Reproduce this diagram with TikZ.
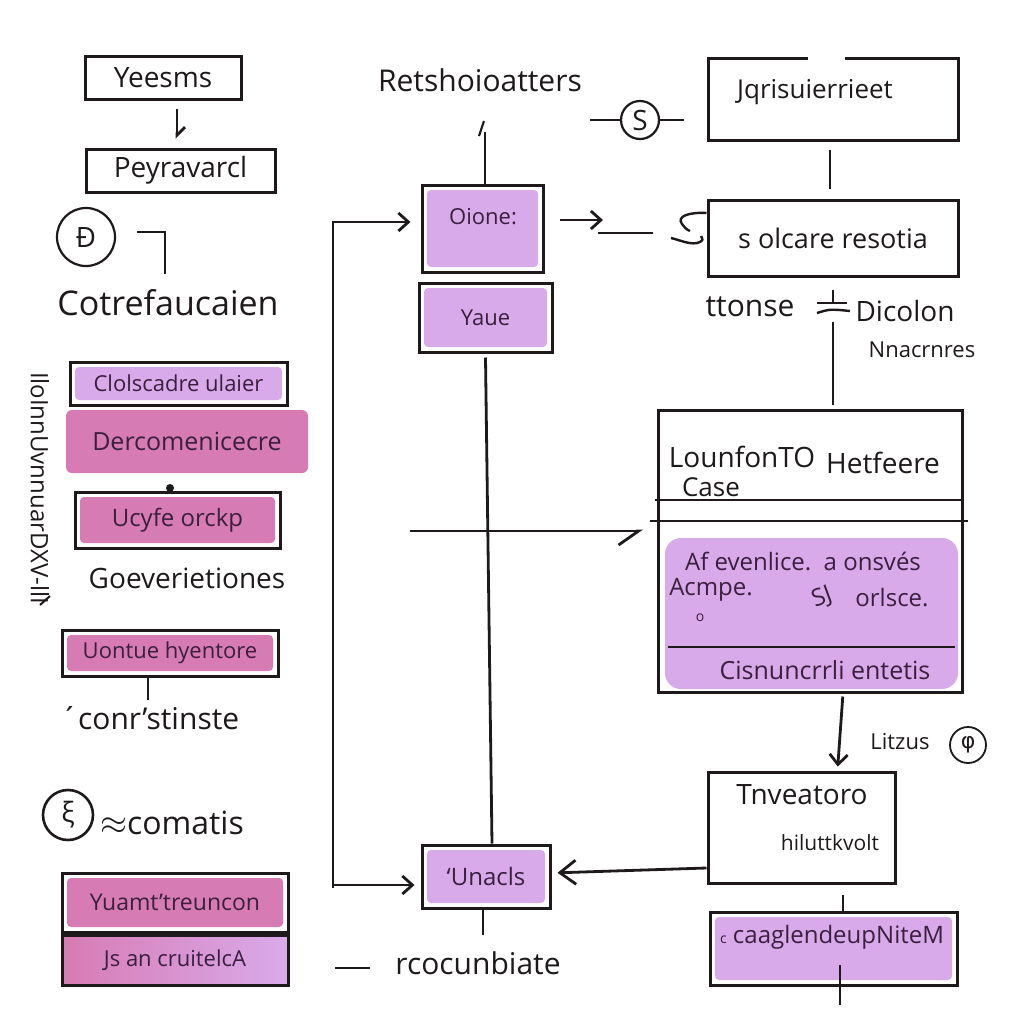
\documentclass[tikz,border=0pt]{standalone}
\usepackage{fontspec}
\setmainfont{Open Sans}
\newfontfamily\djfont{DejaVu Sans}
\usetikzlibrary{arrows.meta,calc,shapes.geometric}
\definecolor{lav}{HTML}{D9AAEA}
\definecolor{pnk}{HTML}{D77BB4}
\definecolor{ink}{HTML}{1E1A1C}
\definecolor{txp}{HTML}{3A1F3F}
\newcommand\fsz[1]{\fontsize{#1}{#1}\selectfont}
\begin{document}
\begin{tikzpicture}[x=0.5pt,y=-0.5pt, line width=1.4pt, draw=ink, text=ink,
  box/.style={draw=ink, line width=1.5pt, inner sep=0pt, text=ink},
  lbox/.style={box, text=txp, path picture={\fill[lav, rounded corners=2pt] ([shift={(2.5pt,-2.5pt)}]path picture bounding box.north west) rectangle ([shift={(-2.5pt,2.5pt)}]path picture bounding box.south east);}},
  pbox/.style={box, text=txp, path picture={\fill[pnk, rounded corners=2pt] ([shift={(2.5pt,-2.5pt)}]path picture bounding box.north west) rectangle ([shift={(-2.5pt,2.5pt)}]path picture bounding box.south east);}},
  arr/.style={-{Straight Barb[length=5pt,width=9pt]}},
  lbl/.style={inner sep=1pt},
  ]
\useasboundingbox[fill=white] (0,0) rectangle (1024,1024);

% ---------- left column ----------
\node[box, minimum width=78pt, minimum height=21.5pt, font=\fsz{14}] (yeesms) at (163,77.5) {Yeesms};
\node[box, minimum width=94.5pt, minimum height=21.5pt, font=\fsz{14}] (peyra) at (180.5,170.5) {Peyravarcl};
\draw[-{Straight Barb[left,length=4pt,width=8pt]}, shorten <=4pt, shorten >=4.5pt] ([xshift=7pt]yeesms.south) -- ([xshift=-1.75pt]peyra.north);

\node[circle, draw, line width=1.1pt, minimum size=29pt, inner sep=0pt, font=\fsz{14}] (pcirc) at (86,237) {Ð};
\coordinate (k1) at (137,232);
\coordinate (k2) at (165,232);
\coordinate (k3) at (165,274);
\draw (k1) -- (k2) -- (k3);
\node[lbl, font=\fsz{17}] (cotre) at (168,303) {Cotrefaucaien};

\node[lbox, minimum width=108.5pt, minimum height=21.5pt, font=\fsz{11}] (clol) at (178.5,383.5) {Clolscadre ulaier};
\node[fill=pnk, rounded corners=3pt, text=txp, minimum width=121pt, minimum height=31.5pt, inner sep=0pt, font=\fsz{12.5}] (derco) at (187,441.5) {Dercomenicecre};
\fill[ink] (170,488) circle (2pt);
\node[pbox, minimum width=102.5pt, minimum height=28pt, font=\fsz{12}] (ucyfe) at (177.5,520) {Ucyfe orckp};
\node[lbl, font=\fsz{14}] (goev) at (187,578) {Goeverietiones};
\node[lbl, rotate=-90, font=\fsz{12}] (scrib) at (40,488) {IloInnUvnnuarDXV-llI};
\coordinate (t1) at (40,605);
\coordinate (t2) at (50,596);
\draw[line width=1pt] (t1) -- (t2);

\node[pbox, minimum width=108pt, minimum height=23pt, font=\fsz{11}] (uont) at (170,653) {Uontue hyentore};
\coordinate (c1) at (148,700);
\draw (uont.south -| c1) -- (c1);
\node[lbl, font=\fsz{15}] (conr) at (150,718) {´conr’stinste};

\node[circle, draw, line width=1.3pt, minimum size=25pt, inner sep=0pt, font=\fsz{14}] (ecirc) at (68,815) {ξ};
\node[lbl, font=\fsz{16}] (comat) at (172,823) {$\approx$comatis};

\node[pbox, minimum width=113pt, minimum height=29.5pt, font=\fsz{11.5}] (yuamt) at (175,902.5) {Yuamt’treuncon};
\node[box, left color=pnk, right color=lav, text=txp, minimum width=113pt, minimum height=25pt, font=\fsz{11}] (jsan) at (175,960) {Js an cruitelcA};

% ---------- middle column ----------
\node[lbl, font=\fsz{15}] (retsh) at (480,80) {Retshoioatters};
\node[lbox, minimum width=60.5pt, minimum height=43.5pt] (oione) at (482.5,228.5) {};
\node[lbl, text=txp, font=\fsz{11}] (oionet) at (483,217) {Oione:};
\coordinate (rt) at (485,132);
\draw (oione.north -| rt) -- (rt);
\coordinate (r1) at (479,136);
\coordinate (r2) at (484,121);
\draw[line width=1.1pt] (r1) -- (r2);

\node[lbox, minimum width=66.5pt, minimum height=34.5pt, font=\fsz{11}] (yaue) at (485.5,317.5) {Yaue};
\node[lbox, minimum width=64pt, minimum height=31.5pt, font=\fsz{12}] (unacls) at (486,876.5) {‘Unacls};
\draw ([yshift=-2pt]yaue.south) -- ([xshift=3pt]unacls.north);

\coordinate (bt) at (333,222);
\coordinate (bb) at (333,888);
\draw[arr, shorten >=5pt] (bb) -- (bt) -- (oione.west |- bt);
\draw[arr, shorten >=3pt] ([yshift=1.5pt]bb) -- (unacls.west |- 0,885);

\coordinate (h1) at (410,531);
\coordinate (h2) at (643,531);
\draw[-{Straight Barb[right,length=10pt,width=14pt]}] (h1) -- (h2);

\coordinate (u1) at (483,935);
\draw (unacls.south -| u1) -- (u1);
\node[lbl, font=\fsz{15}] (rcoc) at (478,963) {rcocunbiate};
\coordinate (d1) at (335,968);
\coordinate (d2) at (370,968);
\draw (d1) -- (d2);

\coordinate (o1) at (603,220);
\draw[arr] ([xshift=7.5pt,yshift=4.25pt]oione.east) -- (o1);
\coordinate (o2) at (598,233);
\coordinate (o3) at (653,233);
\draw (o2) -- (o3);

% ---------- right column ----------
\node[box, minimum width=125pt, minimum height=41pt] (jqris) at (833,99) {};
\draw[draw=white, line width=2.4pt] ([xshift=-12.5pt,yshift=-0.75pt]jqris.north) -- ([xshift=6pt,yshift=-0.75pt]jqris.north);
\node[lbl, font=\fsz{13}] (jqrist) at (815,92) {Jqrisuierrieet};

\node[circle, draw, line width=1.1pt, minimum size=19pt, inner sep=0pt, font=\fsz{14}] (scirc) at (640,120) {S};
\coordinate (s1) at (590,120);
\draw (s1) -- (scirc.west);
\draw[shorten >=11.5pt] (scirc.east) -- (jqris.west |- scirc.east);

\node[box, minimum width=125pt, minimum height=38pt, font=\fsz{13.5}] (solcare) at (833,238) {s olcare resotia};
\draw[shorten <=4pt, shorten >=5pt] ([xshift=-1.5pt]jqris.south) -- ([xshift=-1.5pt]solcare.north);
\draw[line width=1.2pt] (solcare.west |- 0,213) .. controls (690,212) and (676,216) .. (682,224) .. controls (686,229) .. (690,231);
\draw[line width=1.2pt] (671,238) .. controls (680,240) and (692,246) .. (700,242) .. controls (703,240) .. (701,236);

\node[lbl, font=\fsz{15}] (tton) at (750,307) {ttonse};
\node[lbl, font=\fsz{14}] (dico) at (905,311) {Dicolon};
\coordinate (v1) at (833,302);
\coordinate (v2) at (833,322);
\draw ([yshift=-6pt]solcare.south) -- (v1);
\draw[line width=1.2pt] (817,303) -- (847,303);
\draw[line width=1.2pt] (817,313) .. controls (830,309) .. (850,311);
\node[lbl, font=\fsz{11}] (nnac) at (922,350) {Nnacrnres};

\node[box, minimum width=152pt, minimum height=141pt] (big) at (810,551) {};
\draw[shorten >=2pt] (v2) -- (big.north -| v2);
\fill[lav, rounded corners=8pt] (665,538) rectangle (958,689);
\draw (655,500) -- (962,500);
\draw (650,521) -- (968,521);
\draw (668,647) -- (955,647);
\node[lbl, font=\fsz{14}] (lounf) at (742,457) {LounfonTO};
\node[lbl, font=\fsz{14}] (hetf) at (883,463) {Hetfeere};
\node[lbl, font=\fsz{13}] (case) at (711,487) {Case};
\node[lbl, text=txp, font=\fsz{12}] (afev) at (803,561) {Af evenlice.\ \ a onsvés};
\node[lbl, text=txp, font=\fsz{12}] (acmp) at (711,590) {Acmpe.};
\node[lbl, text=txp, font=\fsz{12}, rotate=20] (sj) at (822,598) {SJ};
\node[lbl, text=txp, font=\fsz{12}] (orls) at (892,598) {orlsce.};
\node[lbl, text=txp, font=\fsz{7}] (osm) at (700,618) {o};
\node[lbl, text=txp, font=\fsz{12.5}] (cisn) at (825,670) {Cisnuncrrli entetis};

\node[box, minimum width=93.5pt, minimum height=55.5pt] (tnvea) at (801.5,827.5) {};
\node[lbl, font=\fsz{14}] (tnt) at (802,795) {Tnveatoro};
\node[lbl, font=\fsz{10.5}] (hil) at (830,843) {hiluttkvolt};
\draw[arr, shorten <=1.5pt, shorten >=2pt] ([xshift=16.5pt]big.south) -- ([xshift=18pt]tnvea.north);

\node[lbl, font=\fsz{11}] (litz) at (900,742) {Litzus};
\node[circle, draw, line width=0.9pt, minimum size=18pt, inner sep=0pt, font=\djfont\fsz{11}] (lcirc) at (968,745) {φ};

\draw[-{Straight Barb[length=8pt,width=12pt]}, shorten >=3pt] ([yshift=-20.25pt]tnvea.west) -- ([yshift=1.75pt]unacls.east);

\node[lbox, minimum width=123.5pt, minimum height=36.5pt] (caag) at (833.5,948.5) {};
\node[lbl, text=txp, font=\fsz{12}] (caagt) at (832,937) {{\fsz{7}c} caaglendeupNiteM};
\draw[shorten <=5pt] ([xshift=20.75pt]tnvea.south) -- ([xshift=4.75pt]caag.north);
\coordinate (ct) at (840,965);
\coordinate (cb) at (840,1005);
\draw (ct) -- (cb);
\end{tikzpicture}
\end{document}
